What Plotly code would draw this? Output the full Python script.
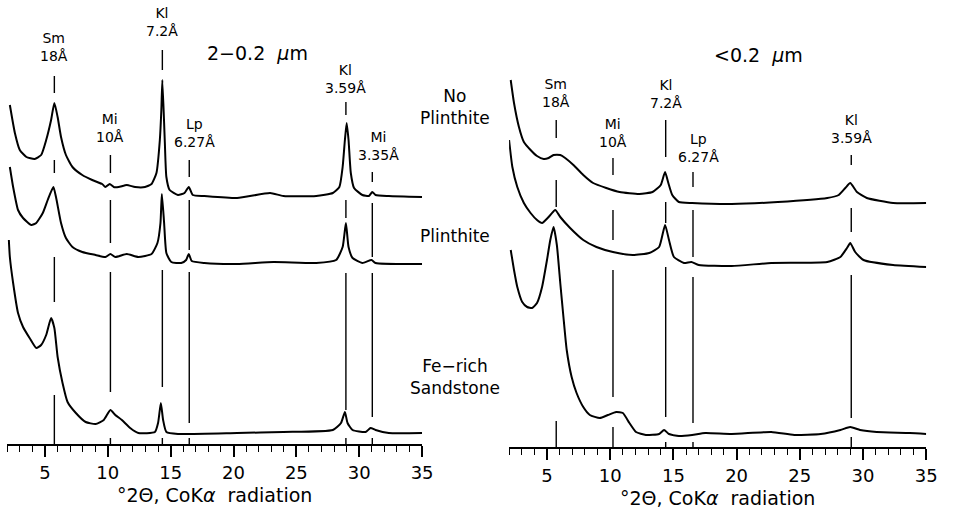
import plotly.graph_objects as go

# ---------------- data: 2-0.2 um fraction (left panel) ----------------
L_NP_t = [2.21, 2.61, 3.0, 3.53, 4.18, 4.70, 5.10, 5.49, 5.75, 6.01, 6.28, 6.67, 7.19, 7.97, 8.76, 9.55,
          9.81, 10.15, 10.47, 10.86, 11.51, 12.17, 12.96, 13.48, 13.87, 14.14, 14.26, 14.34, 14.53, 14.66,
          14.92, 15.58, 16.10, 16.44, 16.76, 17.68, 20.29, 22.91, 23.97, 26.58, 27.90, 28.42, 28.68, 28.86,
          29.00, 29.15, 29.33, 29.59, 30.25, 30.77, 31.04, 31.30, 32.35, 35.0]
L_NP_i = [339, 311, 294, 287, 285, 289, 304, 324, 341, 327, 307, 289, 277, 269, 264, 260,
          257, 260, 257, 257, 259, 257, 257, 260, 271, 304, 334, 364, 304, 267,
          254, 249, 251, 257, 249, 248, 246, 251, 248, 248, 251, 257, 277, 304,
          321, 304, 271, 256, 249, 248, 252, 249, 248, 247]

L_PL_t = [2.21, 2.47, 2.86, 3.26, 3.92, 4.31, 4.83, 5.22, 5.67, 5.88, 6.28, 6.67, 7.19, 7.97, 9.03, 9.81,
          10.21, 10.60, 11.51, 12.43, 13.48, 13.95, 14.19, 14.30, 14.48, 14.66, 15.05, 15.84, 16.23, 16.44,
          16.68, 17.68, 20.29, 23.18, 26.58, 28.16, 28.68, 28.94, 29.15, 29.47, 30.25, 30.98, 31.30, 35.0]
L_PL_i = [277, 257, 234, 226, 219, 221, 231, 244, 257, 247, 221, 206, 197, 192, 189, 187,
          190, 187, 190, 187, 190, 201, 221, 250, 221, 191, 182, 181, 184, 190,
          183, 181, 180, 182, 181, 184, 197, 221, 197, 186, 181, 184, 181, 180]

L_FE_t = [2.13, 2.21, 2.47, 2.86, 3.26, 3.78, 4.31, 4.70, 5.10, 5.49, 5.75, 6.01, 6.40, 6.80, 7.46, 8.24,
          9.03, 9.68, 10.21, 10.60, 11.12, 11.78, 12.43, 13.75, 14.0, 14.22, 14.40, 14.66, 15.58, 20.29,
          23.97, 27.90, 28.55, 28.86, 29.07, 29.47, 30.51, 30.90, 31.30, 32.35, 35.0]
L_FE_i = [204, 187, 161, 131, 117, 106, 96, 99, 109, 126, 116, 87, 61, 42, 31, 22,
          20, 24, 34, 29, 24, 16, 11, 12, 21, 41, 24, 12, 10, 11,
          12, 14, 21, 32, 21, 14, 12, 16, 14, 11, 11]

# ---------------- data: <0.2 um fraction (right panel) ----------------
R_NP_t = [2.13, 2.39, 2.78, 3.17, 3.70, 4.21, 4.74, 5.13, 5.52, 6.05, 6.44, 7.09, 7.87, 8.65, 9.69, 10.74,
          12.31, 13.35, 14.0, 14.34, 14.60, 14.91, 15.43, 16.48, 19.61, 23.26, 27.17, 28.08, 28.60, 28.99,
          29.52, 30.30, 32.38, 35.0]
R_NP_i = [367, 344, 320, 305, 297, 291, 288, 289, 292, 292, 289, 282, 272, 264, 259, 255,
          253, 255, 262, 275, 264, 252, 245, 244, 243, 245, 249, 252, 259, 264,
          255, 249, 244, 244]

R_PL_t = [2.0, 2.26, 2.65, 3.17, 3.70, 4.21, 4.61, 5.13, 5.65, 6.05, 6.83, 7.87, 8.91, 10.22, 11.78, 13.09,
          13.87, 14.34, 14.65, 15.04, 15.83, 16.42, 17.0, 19.61, 22.74, 27.17, 28.21, 28.73, 28.99, 29.38,
          30.04, 32.38, 35.0]
R_PL_i = [307, 280, 260, 244, 234, 227, 224, 230, 237, 230, 219, 207, 200, 195, 192, 194,
          200, 222, 207, 190, 184, 185, 182, 181, 184, 185, 190, 199, 204, 195,
          187, 182, 180]

R_FE_t = [2.13, 2.39, 2.65, 3.04, 3.43, 3.82, 4.21, 4.61, 5.0, 5.26, 5.52, 5.78, 6.05, 6.30, 6.56, 6.95,
          7.34, 7.87, 8.39, 9.18, 9.82, 10.47, 11.0, 11.52, 12.04, 12.82, 13.87, 14.26, 14.65, 15.43,
          16.48, 17.52, 19.61, 22.74, 24.56, 26.65, 28.21, 28.99, 29.77, 31.08, 33.69, 35.0]
R_FE_i = [197, 177, 160, 145, 140, 139, 144, 160, 187, 207, 220, 202, 164, 130, 97, 70,
          54, 40, 32, 29, 32, 35, 34, 24, 15, 12, 13, 17, 13, 11,
          12, 14, 13, 15, 12, 13, 17, 20, 17, 15, 14, 13]

# ---------------- peak reference lines and labels ----------------
L_peak_t = [5.75, 10.21, 14.34, 16.48, 28.94, 31.04]
L_peak_spans = [
    [[351, 368], [271, 284], [142, 187], [0, 49]],
    [[271, 289], [201, 244], [52, 172], [0, 6]],
    [[374, 394], [57, 174], [0, 6]],
    [[267, 284], [194, 244], [21, 172], [0, 6]],
    [[329, 342], [226, 244], [34, 171], [0, 6]],
    [[262, 272], [187, 241], [27, 171], [0, 6]],
]
L_peak_labels = ["Sm<br>18Å", "Mi<br>10Å", "Kl<br>7.2Å", "Lp<br>6.27Å", "Kl<br>3.59Å", "Mi<br>3.35Å"]
L_label_i = [397, 316, 422, 311, 365, 298]
L_label_shift = [0, 0, 0, 5, 0, 6]

R_peak_t = [5.73, 10.22, 14.39, 16.55, 29.07]
R_peak_spans = [
    [[309, 327], [240, 267], [0, 26]],
    [[272, 289], [207, 237], [50, 177], [0, 20]],
    [[290, 327], [224, 245], [30, 180], [0, 5]],
    [[260, 275], [190, 237], [24, 170], [0, 5]],
    [[282, 292], [215, 239], [29, 172], [0, 10]],
]
R_peak_labels = ["Sm<br>18Å", "Mi<br>10Å", "Kl<br>7.2Å", "Lp<br>6.27Å", "Kl<br>3.59Å"]
R_label_i = [354, 314, 353, 299, 318]
R_label_shift = [0, 0, 0, 6, 0]

sample_labels = ["No<br>Plinthite", "Plinthite", "Fe−rich<br>Sandstone"]
panel_titles = ["2−0.2  <i>μ</i>m", "<0.2  <i>μ</i>m"]
x_title = "°2Θ, CoK<i>α</i>  radiation"

FONT = "DejaVu Sans"
fig = go.Figure()

def add_curves(ts, is_, xa, ya):
    for t, i in zip(ts, is_):
        fig.add_trace(go.Scatter(x=t, y=i, mode="lines", xaxis=xa, yaxis=ya,
                                 line=dict(color="black", width=2, shape="spline", smoothing=0.5),
                                 hoverinfo="skip"))

def add_markers(peaks, spans, xa, ya):
    xs, ys = [], []
    for t, sp in zip(peaks, spans):
        for lo, hi in sp:
            xs += [t, t, None]
            ys += [lo, hi, None]
    fig.add_trace(go.Scatter(x=xs, y=ys, mode="lines", xaxis=xa, yaxis=ya,
                             line=dict(color="black", width=1.4), hoverinfo="skip"))

add_curves([L_NP_t, L_PL_t, L_FE_t], [L_NP_i, L_PL_i, L_FE_i], "x", "y")
add_curves([R_NP_t, R_PL_t, R_FE_t], [R_NP_i, R_PL_i, R_FE_i], "x2", "y2")
add_markers(L_peak_t, L_peak_spans, "x", "y")
add_markers(R_peak_t, R_peak_spans, "x2", "y2")

ann = []
for t, lab, yi, sh in zip(L_peak_t, L_peak_labels, L_label_i, L_label_shift):
    ann.append(dict(x=t, y=yi, xref="x", yref="y", text=lab, showarrow=False, xshift=sh,
                    xanchor="center", yanchor="middle",
                    font=dict(family=FONT, size=14, color="black"), align="center"))
for t, lab, yi, sh in zip(R_peak_t, R_peak_labels, R_label_i, R_label_shift):
    ann.append(dict(x=t, y=yi, xref="x2", yref="y2", text=lab, showarrow=False, xshift=sh,
                    xanchor="center", yanchor="middle",
                    font=dict(family=FONT, size=14, color="black"), align="center"))

for lab, yp in zip(sample_labels, [1 - 107 / 512, 1 - 236 / 512, 1 - 377 / 512]):
    ann.append(dict(x=460 / 956, y=yp, xref="paper", yref="paper", text=lab, showarrow=False,
                    xanchor="center", yanchor="middle",
                    font=dict(family=FONT, size=17, color="black"), align="center"))

ann.append(dict(x=261 / 956, y=1 - 53 / 512, xref="paper", yref="paper", text=panel_titles[0],
                xanchor="center", yanchor="middle",
                showarrow=False, font=dict(family=FONT, size=19, color="black")))
ann.append(dict(x=767 / 956, y=1 - 55 / 512, xref="paper", yref="paper", text=panel_titles[1],
                xanchor="center", yanchor="middle",
                showarrow=False, font=dict(family=FONT, size=19, color="black")))

xaxis_common = dict(range=[2, 35], showline=True, linecolor="black", linewidth=2,
                    ticks="outside", ticklen=11, tickwidth=1.5, tickcolor="black",
                    tick0=0, dtick=5, showgrid=False, zeroline=False,
                    minor=dict(ticks="outside", ticklen=6, tickwidth=1.3, tickcolor="black",
                               tick0=0, dtick=1, showgrid=False),
                    tickfont=dict(family=FONT, size=18, color="black"),
                    title=dict(text=x_title, font=dict(family=FONT, size=19, color="black"), standoff=7))

fig.update_layout(
    width=956, height=512, margin=dict(l=0, r=0, t=0, b=0),
    paper_bgcolor="white", plot_bgcolor="white", showlegend=False,
    xaxis=dict(domain=[7.3 / 956, 427 / 956], anchor="y", **xaxis_common),
    xaxis2=dict(domain=[515 / 956, 937 / 956], anchor="y2", **xaxis_common),
    yaxis=dict(domain=[(512 - 444) / 512, 1], range=[0, 444], visible=False, anchor="x"),
    yaxis2=dict(domain=[(512 - 447) / 512, 1], range=[0, 447], visible=False, anchor="x2"),
    annotations=ann,
)

fig.write_html("out.html")
